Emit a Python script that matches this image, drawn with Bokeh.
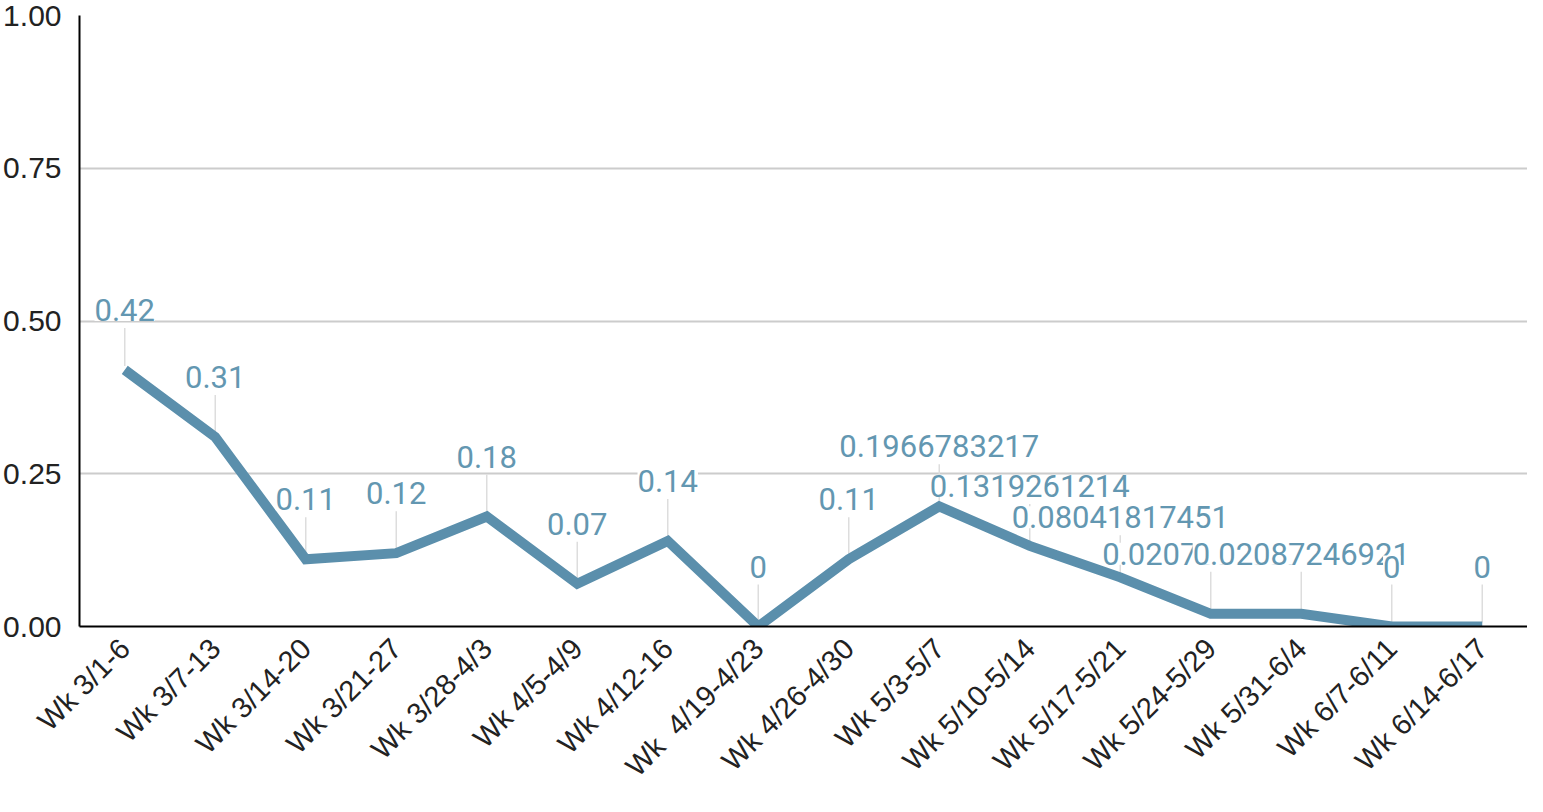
from bokeh.plotting import figure
from bokeh.models import ColumnDataSource, LabelSet, FactorRange, Range1d, FixedTicker, NumeralTickFormatter
from bokeh.core.properties import value
from bokeh.embed import file_html
from bokeh.resources import INLINE
import math

weeks = ["Wk 3/1-6", "Wk 3/7-13", "Wk 3/14-20", "Wk 3/21-27", "Wk 3/28-4/3", "Wk 4/5-4/9",
         "Wk 4/12-16", "Wk \u00a04/19-4/23", "Wk 4/26-4/30", "Wk 5/3-5/7", "Wk 5/10-5/14",
         "Wk 5/17-5/21", "Wk 5/24-5/29", "Wk 5/31-6/4", "Wk 6/7-6/11", "Wk 6/14-6/17"]
values = [0.42, 0.31, 0.11, 0.12, 0.18, 0.07, 0.14, 0, 0.11, 0.1966783217, 0.1319261214,
          0.08041817451, 0.02070393375, 0.02087246921, 0, 0]
labels = ["0.42", "0.31", "0.11", "0.12", "0.18", "0.07", "0.14", "0", "0.11", "0.1966783217",
          "0.1319261214", "0.08041817451", "0.02070393375", "0.02087246921", "0", "0"]
y_ticks = [0, 0.25, 0.5, 0.75, 1.0]

W, H = 1527, 796
MB_L, MB_R, MB_T, MB_B = 79, 0, 15, 170
frame_h = H - MB_T - MB_B
px = 1.0 / frame_h  # data units per pixel

src = ColumnDataSource(dict(
    x=weeks, y=values, lab=labels,
    y0=[v + 4 * px for v in values],
    y1=[v + 42 * px for v in values],
))

p = figure(width=W, height=H, output_backend="svg", toolbar_location=None,
           x_range=FactorRange(*weeks, range_padding=0), y_range=Range1d(0, 1),
           min_border_left=MB_L, min_border_right=MB_R, min_border_top=MB_T, min_border_bottom=MB_B)
p.outline_line_color = None
p.background_fill_color = "white"

p.xgrid.grid_line_color = None
p.ygrid.grid_line_color = "#cccccc"
p.ygrid.grid_line_width = 2
p.ygrid.ticker = FixedTicker(ticks=y_ticks)

p.yaxis.ticker = FixedTicker(ticks=y_ticks)
p.yaxis.formatter = NumeralTickFormatter(format="0.00")
p.yaxis.axis_line_color = "black"
p.yaxis.axis_line_width = 2
p.yaxis.major_tick_line_color = None
p.yaxis.minor_tick_line_color = None
p.yaxis.major_tick_out = 0
p.yaxis.major_label_standoff = 18
p.yaxis.major_label_text_font = "Liberation Sans"
p.yaxis.major_label_text_font_size = "30px"
p.yaxis.major_label_text_color = "#222222"

p.xaxis.axis_line_color = "black"
p.xaxis.axis_line_width = 2
p.xaxis.major_tick_line_color = None
p.xaxis.major_tick_out = 0
p.xaxis.major_label_standoff = 17
p.xaxis.major_label_orientation = math.pi / 4
p.xaxis.major_label_text_font = "Liberation Sans"
p.xaxis.major_label_text_font_size = "29px"
p.xaxis.major_label_text_color = "#222222"

p.segment(x0="x", y0="y0", x1="x", y1="y1", source=src, line_color="#dddddd", line_width=1.5)
p.line(x="x", y="y", source=src, line_color="#5b8fac", line_width=10, line_join="miter")

ls = LabelSet(x="x", y="y", text="lab", source=src, y_offset=49, text_align="center",
              text_baseline="alphabetic", text_font=value("Roboto"), text_font_size=value("31px"),
              text_color="#6397b1", background_fill_color="white")
p.add_layout(ls)

open("out.html", "w").write(file_html(p, INLINE))
